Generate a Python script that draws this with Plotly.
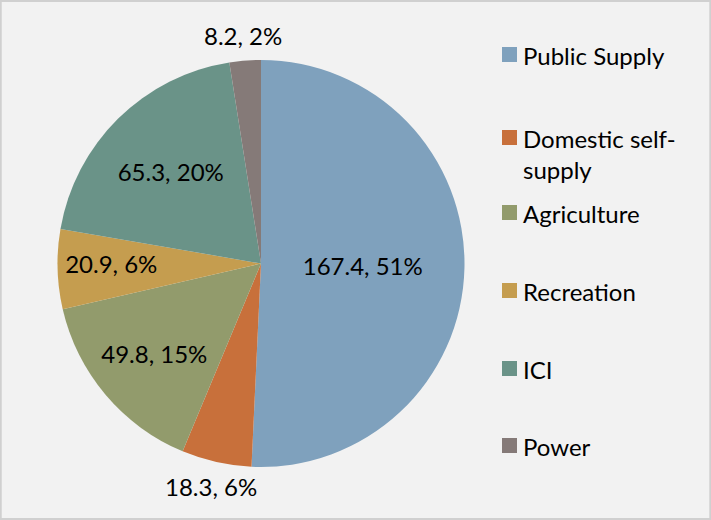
import math
import plotly.graph_objects as go

categories = ["Public Supply", "Domestic self-supply", "Agriculture", "Recreation", "ICI", "Power"]
legend_labels = ["Public Supply", "Domestic self-<br>supply", "Agriculture", "Recreation", "ICI", "Power"]
values = [167.4, 18.3, 49.8, 20.9, 65.3, 8.2]
colors = ["#7FA1BD", "#C8703B", "#929B6C", "#C59D4F", "#6A9388", "#857A78"]
outside = [False, True, False, False, False, True]

W, H = 711, 520
FONT = "Lato, Carlito, Calibri, sans-serif"
FS = 24

# pie placement (pixels)
PX0, PX1, PY0, PY1 = 57, 465, 60, 467
CX, CY = (PX0 + PX1) / 2, (PY0 + PY1) / 2
R = (PX1 - PX0) / 2

fig = go.Figure(go.Pie(
    labels=categories,
    values=values,
    sort=False,
    direction="clockwise",
    rotation=0,
    marker=dict(colors=colors, line=dict(width=0)),
    texttemplate="%{value:.1f}, %{percent:.0%}",
    textposition=["none" if o else "inside" for o in outside],
    insidetextorientation="horizontal",
    textfont=dict(family=FONT, size=FS, color="#000000"),
    domain=dict(x=[PX0 / W, PX1 / W], y=[1 - PY1 / H, 1 - PY0 / H]),
    showlegend=False,
    hoverinfo="label+value+percent",
))

# outside data labels, placed radially at each slice's mid-angle
total = sum(values)
cum = 0.0
for v, o in zip(values, outside):
    mid = (cum + v / 2) / total
    cum += v
    if not o:
        continue
    th = 2 * math.pi * mid
    r = R + 25
    x = CX + r * math.sin(th)
    y = CY - r * math.cos(th)
    fig.add_annotation(xref="paper", yref="paper", x=x / W, y=1 - y / H,
                       xanchor="center", yanchor="middle", showarrow=False,
                       text=f"{v:.1f}, {round(100 * v / total):.0f}%",
                       font=dict(family=FONT, size=FS, color="#000000"))

# custom legend (Excel-like spacing)
leg_y = [55, 138, 213, 291, 369, 446]
for lab, col, yy in zip(legend_labels, colors, leg_y):
    fig.add_shape(type="rect", xref="paper", yref="paper",
                  x0=502 / W, x1=517 / W, y0=1 - (yy + 7) / H, y1=1 - (yy - 8) / H,
                  fillcolor=col, line=dict(width=0))
    fig.add_annotation(xref="paper", yref="paper", x=521 / W, y=1 - (yy - 16) / H,
                       xanchor="left", yanchor="top", text=lab, showarrow=False,
                       align="left", font=dict(family=FONT, size=FS, color="#000000"))

fig.add_shape(type="rect", xref="paper", yref="paper", x0=0.001, x1=0.999, y0=0.002, y1=0.998,
              line=dict(color="#D0D0D0", width=2))

fig.update_layout(
    width=W, height=H,
    margin=dict(l=0, r=0, t=0, b=0),
    paper_bgcolor="#F2F2F2",
    plot_bgcolor="#F2F2F2",
    uniformtext=dict(minsize=FS, mode="show"),
)

fig.write_html("out.html", config={"displayModeBar": False},
               post_script="document.body.style.margin='0';")
